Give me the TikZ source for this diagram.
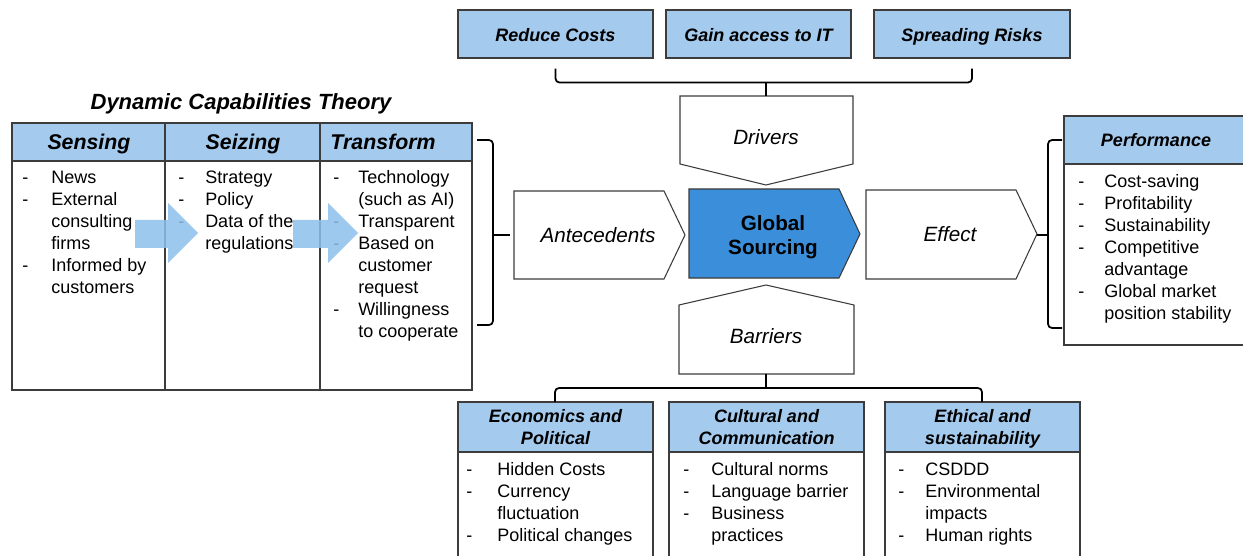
\documentclass[tikz,border=0pt]{standalone}
\usepackage{fontspec}
\setmainfont{Liberation Sans}
\usetikzlibrary{calc}
\definecolor{hdrblue}{HTML}{A4CAEE}
\definecolor{gsblue}{HTML}{3B8EDA}
\definecolor{arrblue}{HTML}{8DC0EC}
\definecolor{edgegray}{HTML}{3C3C3C}
% dash lists: optional arg = width of the dash column
\newcommand{\dashlist}[2][20pt]{{\fontsize{13.5}{16.5}\selectfont
  \begin{tabular}{@{}p{#1}@{}l@{}}#2\end{tabular}}}
\tikzset{
  boxline/.style={draw=edgegray, line width=0.8pt},
  topbox/.style={boxline, fill=hdrblue, minimum height=36pt, inner sep=0pt,
    text height=12.5pt, text depth=1.5pt,
    font=\fontsize{13.5}{16}\selectfont\bfseries\itshape},
  hdrtext/.style={align=center, inner sep=0pt,
    font=\fontsize{13.5}{16.5}\selectfont\bfseries\itshape},
  coltitle/.style={inner sep=0pt, text height=13.5pt, text depth=1.5pt,
    font=\fontsize{16}{19}\selectfont\bfseries\itshape},
  shapetext/.style={inner sep=0pt, font=\fontsize{15.5}{18}\selectfont\itshape},
  listnode/.style={anchor=north west, inner sep=0pt},
  brace/.style={draw=black, line width=1.3pt, rounded corners=3pt},
  bigarrow/.style={fill=arrblue, fill opacity=0.85, draw=none}
}
\begin{document}
\begin{tikzpicture}[x=0.75pt, y=-0.75pt]
\useasboundingbox (0,0) rectangle (1243,556);

% drivers on top
\node[topbox, minimum width=146.25pt] (rc) at (555.5,34) {Reduce Costs};
\node[topbox, minimum width=138.75pt] (gi) at (758.5,34) {Gain access to IT};
\node[topbox, minimum width=147pt] (sr) at (972,34) {Spreading Risks};

% central shapes
\draw[boxline, fill=white] (680,96) -- (853,96) -- (853,164) -- (766,185) -- (680,164) -- cycle;
\node[shapetext] (drivers) at (766,137) {Drivers};
\draw[boxline, fill=white] (766,285) -- (854,305) -- (854,374) -- (679,374) -- (679,305) -- cycle;
\node[shapetext] (barriers) at (766,336) {Barriers};
\draw[boxline, fill=white] (514,191) -- (664,191) -- (685,235) -- (664,279) -- (514,279) -- cycle;
\node[shapetext] (ante) at (598,235) {Antecedents};
\draw[boxline, fill=gsblue] (689,189) -- (839,189) -- (860,234) -- (839,278) -- (689,278) -- cycle;
\node[align=center, inner sep=0pt, font=\fontsize{15.5}{18}\selectfont\bfseries] (gs) at (773,237) {Global\\Sourcing};
\draw[boxline, fill=white] (866,190) -- (1016,190) -- (1037,234) -- (1016,279) -- (866,279) -- cycle;
\node[shapetext] (effect) at (950,234) {Effect};
\coordinate (drvtop) at (766,96);
\coordinate (barbot) at (766,374);
\coordinate (antetip) at (514,235);
\coordinate (efftip) at (1037,235);

% top and bottom brackets
\draw[brace] ($(rc.south)+(0,10)$) |- ($(sr.south)+(0,24)$) -- ($(sr.south)+(0,10)$);
\draw[brace, rounded corners=0pt] ($(drvtop)+(0,-14)$) -- (drvtop);

% dynamic capabilities table
\node[inner sep=0pt, font=\fontsize{16.5}{19}\selectfont\bfseries\itshape] (dct) at (241,104) {Dynamic Capabilities Theory};
\fill[hdrblue] (12,123) rectangle (472,161);
\draw[boxline] (12,123) rectangle (472,390);
\draw[boxline] (12,161) -- (472,161);
\draw[boxline] (165,123) -- (165,390);
\draw[boxline] (320,123) -- (320,390);
\node[coltitle] (sensing) at (89,142) {Sensing};
\node[coltitle] (seizing) at (243,142) {Seizing};
\node[coltitle] (transform) at (383,142) {Transform};
\node[listnode] (senslist) at (22,168) {\dashlist[21.75pt]{- & News\\ - & External\\ & consulting\\ & firms\\ - & Informed by\\ & customers}};
\node[listnode] (seizlist) at (178,168) {\dashlist[20.25pt]{- & Strategy\\ - & Policy\\ - & Data of the\\ & regulations}};
\node[listnode] (translist) at (333,168) {\dashlist[18.75pt]{- & Technology\\ & (such as AI)\\ - & Transparent\\ - & Based on\\ & customer\\ & request\\ - & Willingness\\ & to cooperate}};
\fill[bigarrow] (135,220) -- (168,220) -- (168,203) -- (198,233) -- (168,263) -- (168,248) -- (135,248) -- cycle;
\fill[bigarrow] (293,220) -- (328,220) -- (328,203) -- (358,233) -- (328,263) -- (328,248) -- (293,248) -- cycle;

% left brace to antecedents
\draw[brace] (477,140) -- (493,140) -- (493,325) -- (477,325);
\draw[brace, rounded corners=0pt] (493,235) -- ($(antetip)+(-4,0)$);

% performance
\fill[hdrblue] (1064,116) rectangle (1250,164);
\draw[boxline] (1250,116) -- (1064,116) -- (1064,345) -- (1250,345);
\draw[boxline] (1064,164) -- (1250,164);
\node[hdrtext] (perf) at (1156,142) {Performance\strut};
\node[listnode] (perflist) at (1078,172) {\dashlist[19.5pt]{- & Cost-saving\\ - & Profitability\\ - & Sustainability\\ - & Competitive\\ & advantage\\ - & Global market\\ & position stability}};
\draw[brace] (1062,140) -- (1048,140) -- (1048,328) -- (1062,328);
\draw[brace, rounded corners=0pt] (efftip) -- (1048,235);

% barrier categories
\foreach \nm/\xl/\xr in {econ/458/653, cult/669/864, eth/885/1080}{
  \fill[hdrblue] (\xl,402) rectangle (\xr,452);
  \draw[boxline] (\xl,560) -- (\xl,402) -- (\xr,402) -- (\xr,560);
  \draw[boxline] (\xl,452) -- (\xr,452);
}
\node[hdrtext] (econ) at (555.5,429) {Economics and\strut\\Political\strut};
\node[hdrtext] (cult) at (766.5,429) {Cultural and\strut\\Communication\strut};
\node[hdrtext] (eth) at (982.5,429) {Ethical and\strut\\sustainability\strut};
\node[listnode] (econlist) at (466,460) {\dashlist[23.25pt]{- & Hidden Costs\\ - & Currency\\ & fluctuation\\ - & Political changes}};
\node[listnode] (cultlist) at (683,460) {\dashlist[21pt]{- & Cultural norms\\ - & Language barrier\\ - & Business\\ & practices}};
\node[listnode] (ethlist) at (898,460) {\dashlist[20.25pt]{- & CSDDD\\ - & Environmental\\ & impacts\\ - & Human rights}};
\draw[brace, rounded corners=0pt] (barbot) -- ($(barbot)+(0,14)$);
\draw[brace] (555,402) -- (555,388) -- (982,388) -- (982,402);
\end{tikzpicture}
\end{document}
